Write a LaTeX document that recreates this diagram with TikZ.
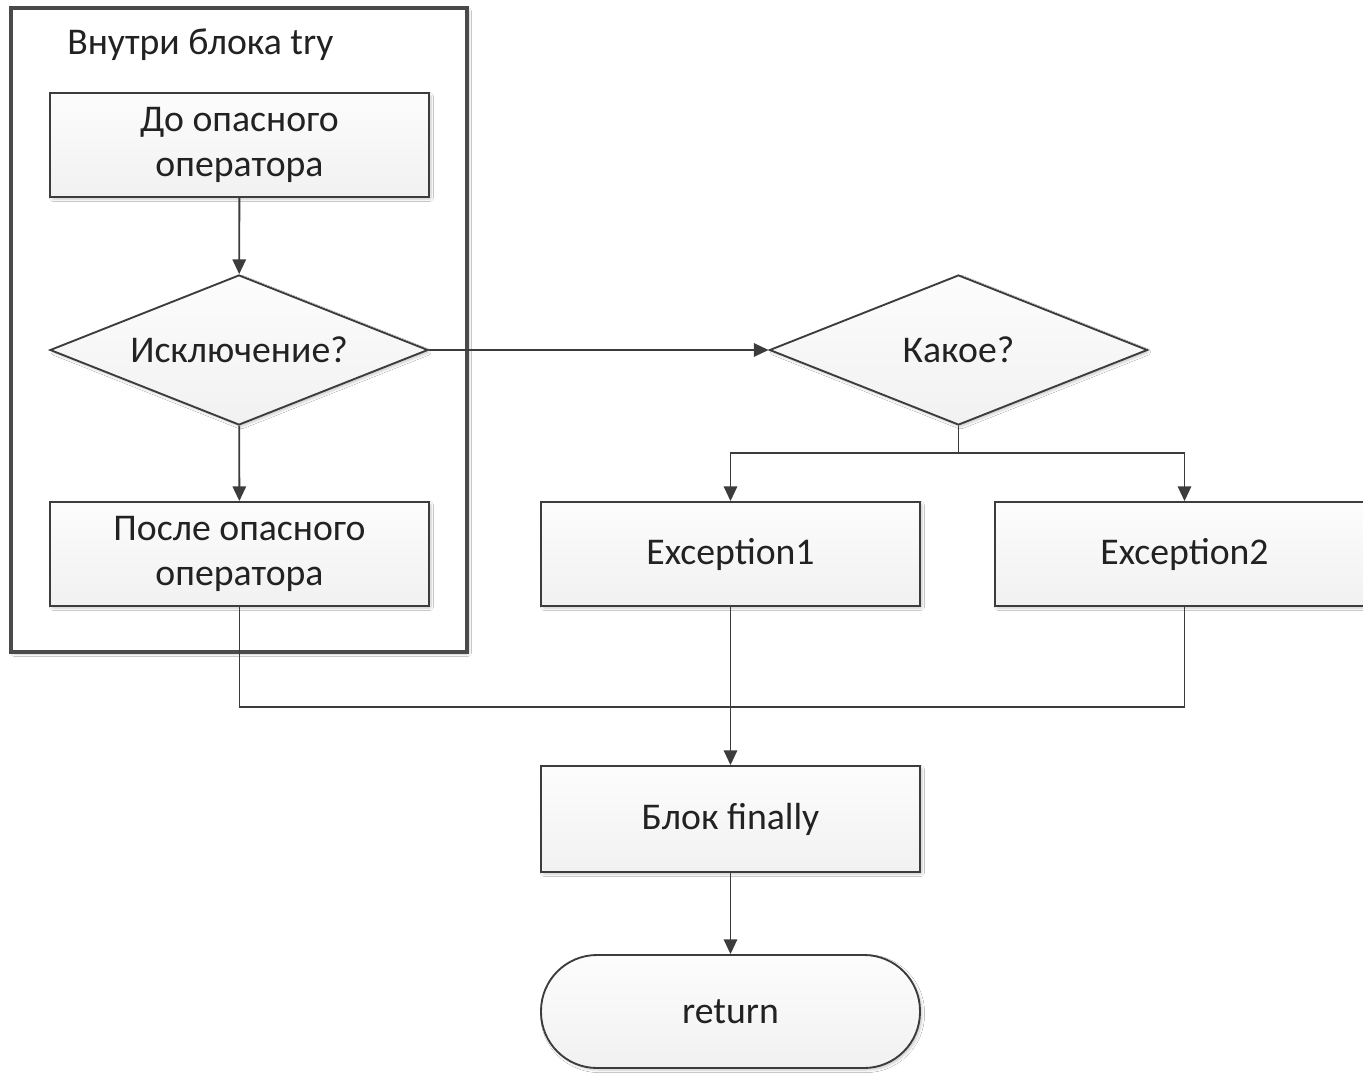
\documentclass[tikz,border=0pt]{standalone}
\usepackage{fontspec}
\setmainfont{Carlito}
\usetikzlibrary{arrows.meta,shapes.geometric,shadows.blur,positioning}

\definecolor{linecol}{HTML}{3C3C3C}
\definecolor{framecol}{HTML}{4A4A4A}
\definecolor{textcol}{HTML}{222222}

\tikzset{
  softshadow/.style={blur shadow={shadow xshift=1.5pt, shadow yshift=-1.5pt,
      shadow blur steps=6, shadow blur extra rounding=1pt, shadow opacity=22}},
  flowfill/.style={top color=gray!2, bottom color=gray!11, draw=linecol, line width=1.4pt,
      text=textcol, font=\fontsize{28.3}{34}\selectfont, align=center, softshadow},
  procbox/.style={flowfill, rectangle, inner sep=0pt,
      minimum width=284.25pt, minimum height=78pt},
  decision/.style={flowfill, diamond, aspect=2.52, inner sep=0pt,
      minimum width=283.5pt, minimum height=112.5pt},
  terminal/.style={flowfill, rectangle, rounded corners=42pt, inner sep=0pt,
      minimum width=284.25pt, minimum height=84.75pt},
  connector/.style={draw=linecol, line width=1.4pt},
  arrowline/.style={connector, -{Triangle[length=11pt,width=10pt]}},
}

\begin{document}
\begin{tikzpicture}[x=0.75pt, y=-0.75pt]
  \clip (0,0) rectangle (1363,1074);
  \fill[white] (0,0) rectangle (1363,1074);

  % frame of the try block
  \node[draw=framecol, line width=2.6pt, fill=white, rectangle, inner sep=0pt,
        minimum width=342pt, minimum height=483pt, softshadow]
        (tryframe) at (239,330) {};
  \node[anchor=west, text=textcol, font=\fontsize{28.3}{34}\selectfont, inner sep=0pt]
        (trytitle) at (67,45) {Внутри блока try};

  % nodes
  \node[procbox]  (before)  at (239.5,145) {До опасного\\оператора};
  \node[decision] (isexc)   at (239,350)   {Исключение?};
  \node[procbox]  (after)   at (239.5,554) {После опасного\\оператора};
  \node[decision] (which)   at (958.5,350) {Какое?};
  \node[procbox]  (exone)   at (730.5,554) {Exception1};
  \node[procbox]  (extwo)   at (1184.5,554) {Exception2};
  \node[procbox, minimum height=79.5pt] (final) at (730.5,819) {Блок finally};
  \node[terminal] (ret)     at (730.5,1011.5) {return};

  % junction points
  \coordinate (split) at (958.5,453);
  \coordinate (merge) at (1184.5,707);

  % connectors
  \draw[arrowline] (before) -- (isexc);
  \draw[arrowline] (isexc) -- (after);
  \draw[arrowline] (isexc.east) -- (which.west);
  \draw[connector] (which.south) -- (split);
  \draw[arrowline] (split) -| (exone.north);
  \draw[arrowline] (split) -| (extwo.north);
  \draw[connector] (after.south) |- (merge) -- (extwo.south);
  \draw[arrowline] (exone.south) -- (final.north);
  \draw[arrowline] (final.south) -- (ret.north);
\end{tikzpicture}
\end{document}
